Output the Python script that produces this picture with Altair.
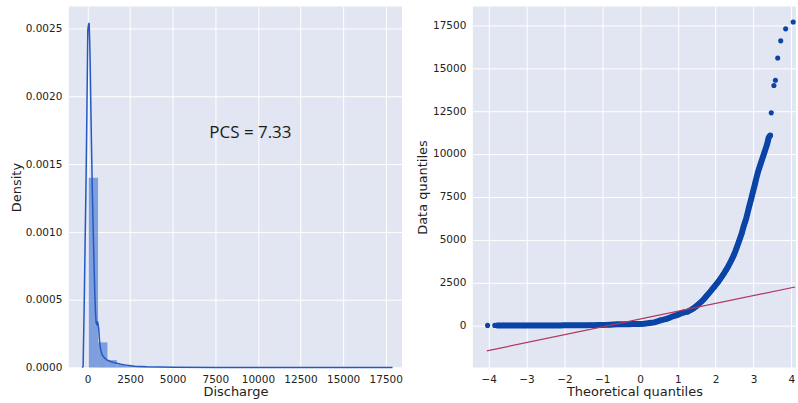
import altair as alt
import pandas as pd

# ---------------- data ----------------
# Histogram (density-normalised) of Discharge
hist_left = [70, 620, 1170, 1720, 2270, 2820, 3370, 3920]
hist_right = [620, 1170, 1720, 2270, 2820, 3370, 3920, 4470]
hist_density = [0.001401, 0.000186, 0.000055, 0.000022, 0.000012, 0.000008, 0.000005, 0.000003]

# KDE curve of Discharge
kde_x = [-300, -257, -197, -140, -80, -23, 18, 60, 96, 130, 155, 190, 234, 280, 330,
         380, 428, 470, 506, 545, 585, 625, 663, 700, 740, 800, 857, 950, 1112, 1300,
         1600, 1900, 2185, 2770, 3500, 5000, 7500, 10000, 12500, 15000, 17900]
kde_y = [0.0, 0.00001, 0.00043, 0.00092, 0.00141, 0.00202, 0.00249, 0.00253, 0.002543,
         0.0024, 0.00227, 0.00198, 0.00165, 0.00133, 0.00104, 0.00078, 0.00055, 0.00041,
         0.00033, 0.00032, 0.00034, 0.00032, 0.00028, 0.00021, 0.000157, 0.00012,
         0.000096, 0.000078, 0.000059, 0.000047, 0.000035, 0.000026, 0.00002, 0.00001,
         0.000006, 0.000003, 0.0000015, 0.000001, 0.0000007, 0.0000005, 0.0000002]

pcs_text = "PCS = 7.33"
pcs_x = 9560
pcs_y = 0.001692

# Q-Q plot points (theoretical quantile, data quantile)
qq_theoretical = [
    -4.03, -3.84, -3.77, -3.70, -3.60, -3.50, -3.40, -3.30, -3.20, -3.10, -3.00, -2.90,
    -2.80, -2.70, -2.60, -2.50, -2.40, -2.30, -2.20, -2.10, -2.00, -1.90, -1.80, -1.70,
    -1.60, -1.50, -1.40, -1.30, -1.20, -1.10, -1.00, -0.90, -0.80, -0.70, -0.60, -0.50,
    -0.40, -0.30, -0.20, -0.10, 0.00, 0.10, 0.20, 0.30, 0.38, 0.46, 0.54, 0.62, 0.70,
    0.78, 0.86, 0.93, 0.99, 1.06, 1.13, 1.20, 1.26, 1.32, 1.38, 1.43, 1.48, 1.53, 1.58,
    1.63, 1.68, 1.73, 1.78, 1.83, 1.88, 1.93, 1.98, 2.03, 2.08, 2.13, 2.18, 2.23, 2.28,
    2.33, 2.38, 2.43, 2.48, 2.53, 2.57, 2.61, 2.65, 2.69, 2.72, 2.75, 2.78, 2.81, 2.84,
    2.87, 2.90, 2.93, 2.96, 2.99, 3.02, 3.05, 3.08, 3.11, 3.14, 3.17, 3.20, 3.23, 3.26,
    3.29, 3.32, 3.35, 3.38, 3.40, 3.43, 3.45,
    3.47, 3.54, 3.58, 3.64, 3.72, 3.85, 4.05]
qq_sample = [
    0, 0, 0, 0, 0, 0, 0, 0, 0, 0, 0, 0,
    0, 0, 0, 0, 0, 0, 0, 0, 5, 5, 5, 10,
    10, 10, 10, 15, 15, 20, 25, 30, 40, 50, 60, 65,
    70, 72, 75, 78, 80, 100, 125, 155, 175, 230, 290, 340, 380,
    450, 520, 570, 610, 680, 740, 770, 800, 870, 950, 1020, 1110, 1200, 1300,
    1400, 1510, 1640, 1770, 1900, 2030, 2170, 2300, 2440, 2580, 2740, 2900, 3070, 3250,
    3440, 3650, 3870, 4100, 4380, 4620, 4870, 5120, 5380, 5620, 5850, 6050, 6260, 6520,
    6800, 7050, 7300, 7560, 7820, 8080, 8350, 8620, 8880, 9100, 9300, 9500, 9700, 9900,
    10100, 10300, 10500, 10750, 10950, 11050, 11100,
    12400, 14000, 14300, 15600, 16600, 17300, 17700]
# how many leading points form the dense, continuous band (the rest are isolated)
qq_dense_count = 3 + 108

# Reference line of the Q-Q plot (end points)
ref_x = [-4.05, 4.10]
ref_y = [-1485, 2240]

# Tick values
left_x_ticks = [0, 2500, 5000, 7500, 10000, 12500, 15000, 17500]
left_y_ticks = [0.0, 0.0005, 0.0010, 0.0015, 0.0020, 0.0025]
right_x_ticks = [-4, -3, -2, -1, 0, 1, 2, 3, 4]
right_y_ticks = [0, 2500, 5000, 7500, 10000, 12500, 15000, 17500]

# ---------------- tables ----------------
hist_df = pd.DataFrame({"x0": hist_left, "x1": hist_right, "density": hist_density})
kde_df = pd.DataFrame({"x": kde_x, "y": kde_y})
qq_df = pd.DataFrame({"t": qq_theoretical, "q": qq_sample})
band_df = qq_df.iloc[2:qq_dense_count].reset_index(drop=True)
band_df["i"] = range(len(band_df))
ref_df = pd.DataFrame({"t": ref_x, "q": ref_y})
txt_df = pd.DataFrame({"x": [pcs_x], "y": [pcs_y], "label": [pcs_text]})

FONT = "DejaVu Sans"
BG = "#E2E6F3"
TXT = "#222222"
PT = "#0b44a6"

def axis(ticks, fmt, title, extent, tpad):
    return alt.Axis(values=ticks, format=fmt, title=title, ticks=False, tickSize=0,
                    domain=False, grid=True, gridColor="white", gridWidth=1,
                    labelFont=FONT, labelFontSize=10.5, labelColor=TXT, labelPadding=7,
                    titleFont=FONT, titleFontSize=13, titleColor=TXT, titleFontWeight="normal",
                    titlePadding=tpad, minExtent=extent, maxExtent=extent)

lx = alt.Scale(domain=[-1095, 18454], nice=False, zero=False)
ly = alt.Scale(domain=[0, 0.002664], nice=False, zero=False)

bars = alt.Chart(hist_df).mark_rect(color="#2d62cc", opacity=0.55).encode(
    x=alt.X("x0:Q", scale=lx, axis=axis(left_x_ticks, "d", "Discharge", 18, 0)),
    x2="x1:Q",
    y=alt.Y("density:Q", scale=ly, axis=axis(left_y_ticks, ".4f", "Density", 43, 2)),
    y2=alt.datum(0),
)
kde = alt.Chart(kde_df).mark_line(color="#2459c2", strokeWidth=1.5).encode(
    x=alt.X("x:Q", scale=lx), y=alt.Y("y:Q", scale=ly), order="x:Q"
)
txt = alt.Chart(txt_df).mark_text(font="Open Sans", fontSize=17, color="#1a1a1a",
                                  align="center", baseline="alphabetic").encode(
    x=alt.X("x:Q", scale=lx), y=alt.Y("y:Q", scale=ly), text="label:N"
)
left = alt.layer(bars, kde, txt).properties(width=334, height=362)

rx = alt.Scale(domain=[-4.42, 4.124], nice=False, zero=False)
ry = alt.Scale(domain=[-2462, 18606], nice=False, zero=False)

band = alt.Chart(band_df).mark_line(color=PT, strokeWidth=6, strokeCap="round",
                                    strokeJoin="round").encode(
    x=alt.X("t:Q", scale=rx, axis=axis(right_x_ticks, "d", "Theoretical quantiles", 18, 0)),
    y=alt.Y("q:Q", scale=ry, axis=axis(right_y_ticks, "d", "Data quantiles", 41, 2)),
    order="i:Q",
)
pts = alt.Chart(qq_df).mark_circle(color=PT, opacity=1, size=26).encode(
    x=alt.X("t:Q", scale=rx),
    y=alt.Y("q:Q", scale=ry),
)
ref = alt.Chart(ref_df).mark_line(color="#b0385e", strokeWidth=1.2).encode(
    x=alt.X("t:Q", scale=rx), y=alt.Y("q:Q", scale=ry)
)
right = alt.layer(band, pts, ref).properties(width=324, height=362)

chart = alt.hconcat(left, right, spacing=71, bounds="flush").properties(
    padding={"left": 11, "top": 6, "right": 0, "bottom": 3},
    background="white",
).configure_view(fill=BG, stroke=None)

chart.save("out.html", embed_options={"renderer": "svg", "actions": False})
